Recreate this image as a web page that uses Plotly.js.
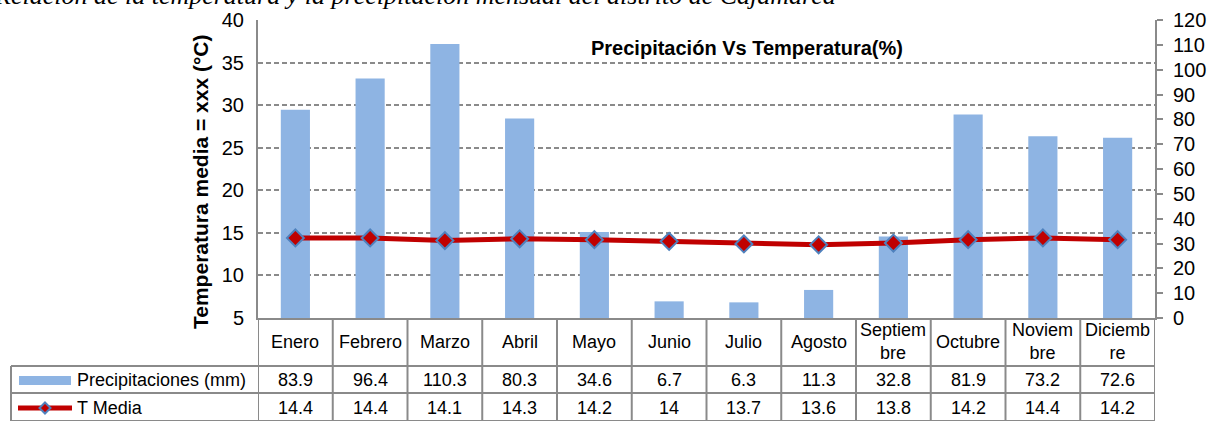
<!DOCTYPE html>
<html>
<head>
<meta charset="utf-8">
<script src="https://cdn.plot.ly/plotly-3.0.1.min.js"></script>
<style>html,body{margin:0;padding:0;background:#fff;}#chart{width:1221px;height:421px;}</style>
</head>
<body>
<div id="chart"></div>
<script>
const months = ['Enero','Febrero','Marzo','Abril','Mayo','Junio','Julio','Agosto','Septiembre','Octubre','Noviembre','Diciembre'];
const monthLabels = ['Enero','Febrero','Marzo','Abril','Mayo','Junio','Julio','Agosto','Septiem<br>bre','Octubre','Noviem<br>bre','Diciemb<br>re'];
const precipitation = [83.9,96.4,110.3,80.3,34.6,6.7,6.3,11.3,32.8,81.9,73.2,72.6];
const tMedia = [14.4,14.4,14.1,14.3,14.2,14,13.7,13.6,13.8,14.2,14.4,14.2];
const seriesNames = ['Precipitaciones (mm)','T Media'];

const W = 1221, H = 421;
const L = 258, R = 1155, T = 20, B = 318;
const pw = R - L, ph = B - T;
const px = p => (p - L) / pw;          // pixel x -> paper x
const py = p => (B - p) / ph;          // pixel y -> paper y

const FONT = 'Liberation Sans, Arial, sans-serif';
const GRAY = '#8a8a8a';

const traces = [
  {
    type: 'bar', x: months, y: precipitation, name: seriesNames[0],
    marker: {color: '#8EB4E3', line: {width: 0}},
    yaxis: 'y', xaxis: 'x', hoverinfo: 'skip'
  },
  {
    type: 'scatter', mode: 'lines+markers', x: months, y: tMedia, name: seriesNames[1],
    line: {color: '#C00000', width: 5},
    marker: {symbol: 'diamond', size: 13, color: '#C00000', line: {color: '#4F81BD', width: 2}},
    yaxis: 'y2', xaxis: 'x', hoverinfo: 'skip'
  }
];

const shapes = [];
const annotations = [];
const line = (x0, y0, x1, y1, xref) => shapes.push({
  type: 'line', xref: xref || 'paper', yref: 'paper', x0, y0, x1, y1,
  line: {color: GRAY, width: 2}, layer: 'above'
});

// table horizontal lines
[366, 393, 421].forEach(p => line(px(11), py(p), 1, py(p)));
// left column border
line(px(11), py(366), px(11), py(421));
// column separators
for (let k = 0; k <= months.length; k++) {
  shapes.push({type: 'line', xref: 'x', yref: 'paper', x0: k - 0.5, x1: k - 0.5,
    y0: 0, y1: py(421), line: {color: GRAY, width: 2}, layer: 'above'});
}

// cell texts
months.forEach((m, i) => {
  annotations.push({xref: 'x', yref: 'paper', x: i, y: py(342), text: monthLabels[i],
    showarrow: false, xanchor: 'center', yanchor: 'middle', font: {family: FONT, size: 18, color: '#000'}});
  annotations.push({xref: 'x', yref: 'paper', x: i, y: py(380), text: String(precipitation[i]),
    showarrow: false, xanchor: 'center', yanchor: 'middle', font: {family: FONT, size: 18, color: '#000'}});
  annotations.push({xref: 'x', yref: 'paper', x: i, y: py(408), text: String(tMedia[i]),
    showarrow: false, xanchor: 'center', yanchor: 'middle', font: {family: FONT, size: 18, color: '#000'}});
});

// legend keys in table
shapes.push({type: 'rect', xref: 'paper', yref: 'paper', x0: px(19), x1: px(71), y0: py(376), y1: py(385),
  fillcolor: '#8EB4E3', line: {width: 0}, layer: 'above'});
shapes.push({type: 'line', xref: 'paper', yref: 'paper', x0: px(18), x1: px(72), y0: py(408), y1: py(408),
  line: {color: '#C00000', width: 5}, layer: 'above'});
shapes.push({type: 'path', xref: 'paper', yref: 'paper',
  path: `M ${px(45)} ${py(402.5)} L ${px(50.5)} ${py(408)} L ${px(45)} ${py(413.5)} L ${px(39.5)} ${py(408)} Z`,
  fillcolor: '#C00000', line: {color: '#4F81BD', width: 2}, layer: 'above'});
annotations.push({xref: 'paper', yref: 'paper', x: px(75), y: py(380), text: seriesNames[0], showarrow: false,
  xanchor: 'left', yanchor: 'middle', font: {family: FONT, size: 18, color: '#000'}});
annotations.push({xref: 'paper', yref: 'paper', x: px(75), y: py(408), text: seriesNames[1], showarrow: false,
  xanchor: 'left', yanchor: 'middle', font: {family: FONT, size: 18, color: '#000'}});

// chart title inside plot
annotations.push({xref: 'paper', yref: 'paper', x: px(747), y: py(48), text: '<b>Precipitación Vs Temperatura(%)</b>',
  showarrow: false, xanchor: 'center', yanchor: 'middle', font: {family: FONT, size: 20, color: '#000'}});
// left axis title
annotations.push({xref: 'paper', yref: 'paper', x: px(200), y: py(182), text: '<b>Temperatura media = xxx (°C)</b>',
  textangle: -90, showarrow: false, xanchor: 'center', yanchor: 'middle', font: {family: FONT, size: 21, color: '#000'}});
// caption (clipped at top, as in the source)
annotations.push({xref: 'paper', yref: 'paper', x: px(-8), y: py(-4), text: '<i>Relación de la temperatura y la precipitación mensual del distrito de Cajamarca</i>',
  showarrow: false, xanchor: 'left', yanchor: 'middle', font: {family: 'Liberation Serif, Times New Roman, serif', size: 26, color: '#000'}});

const layout = {
  width: W, height: H,
  margin: {l: L, r: W - R, t: T, b: H - B, pad: 0},
  paper_bgcolor: '#fff', plot_bgcolor: 'rgba(0,0,0,0)',
  showlegend: false,
  bargap: 0.61,
  xaxis: {type: 'category', range: [-0.5, 11.5], showticklabels: false, ticks: '', showgrid: false,
    showline: true, linecolor: GRAY, linewidth: 2, zeroline: false, fixedrange: true},
  yaxis: {side: 'right', range: [0, 120], dtick: 10, tick0: 0, showgrid: false, zeroline: false,
    showline: true, linecolor: GRAY, linewidth: 2, ticks: 'outside', ticklen: 6, tickcolor: GRAY, tickwidth: 2,
    tickfont: {family: FONT, size: 20, color: '#000'}, ticklabelstandoff: 6},
  yaxis2: {overlaying: 'y', side: 'left', range: [5, 40], dtick: 5, tick0: 5, showgrid: true,
    gridcolor: GRAY, gridwidth: 2, griddash: '5px,3px', zeroline: false,
    showline: true, linecolor: GRAY, linewidth: 2, ticks: '',
    tickfont: {family: FONT, size: 20, color: '#000'}, ticklabelstandoff: 8},
  shapes, annotations
};

Plotly.newPlot('chart', traces, layout, {displayModeBar: false, staticPlot: true});
</script>
</body>
</html>
